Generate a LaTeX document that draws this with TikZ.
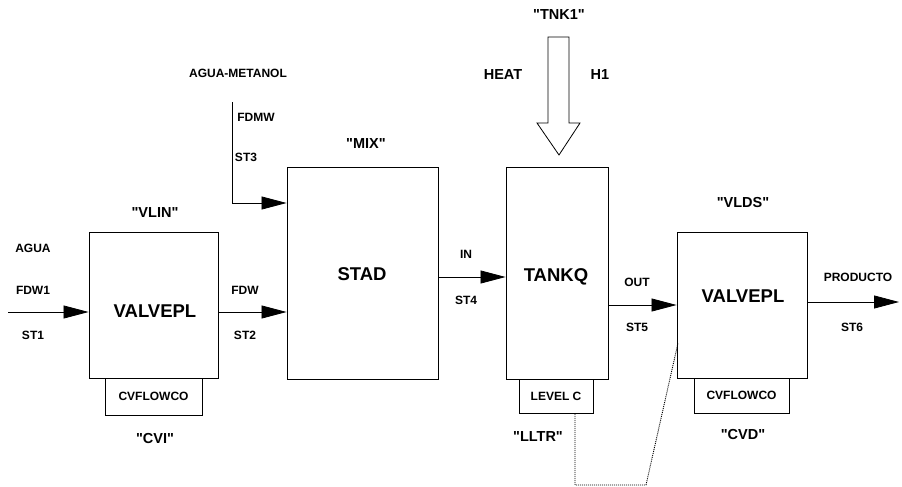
\documentclass[tikz,border=0pt]{standalone}
\usepackage{fontspec}
\newfontfamily\lab{Liberation Sans}
\usetikzlibrary{arrows.meta}
\tikzset{
  box/.style={draw, line width=0.9pt, rectangle, inner sep=0pt},
  small/.style={font=\lab\bfseries\fontsize{12}{13}\selectfont, inner sep=0pt},
  mid/.style={font=\lab\bfseries\fontsize{14.5}{16}\selectfont, inner sep=0pt},
  big/.style={font=\lab\bfseries\fontsize{18.5}{20}\selectfont, inner sep=0pt},
  flow/.style={line width=0.8pt, -{Triangle[length=25pt,width=13pt]}},
  sig/.style={line width=0.9pt, dash pattern=on 1pt off 1pt}
}
\begin{document}
\begin{tikzpicture}[x=1pt,y=-1pt]
\useasboundingbox (0,0) rectangle (902,487);
% boxes
\node[box, minimum width=129pt, minimum height=146pt] (vlin) at (153.5,305) {};
\node[box, minimum width=97pt, minimum height=37pt, anchor=north] (cvi) at (153.5,378) {};
\node[box, minimum width=151pt, minimum height=212pt] (stad) at (362.5,273) {};
\node[box, minimum width=102pt, minimum height=212pt] (tankq) at (557,273) {};
\node[box, minimum width=74pt, minimum height=34pt, anchor=north] (lvl) at (556,379) {};
\node[box, minimum width=130pt, minimum height=146pt] (vlds) at (742,305) {};
\node[box, minimum width=95pt, minimum height=35pt, anchor=north] (cvd) at (741.5,378) {};
% box texts
\node[big] (t1) at (155,311) {VALVEPL};
\node[small] (t2) at (153.5,396.5) {CVFLOWCO};
\node[big] (t3) at (362,274) {STAD};
\node[big] (t4) at (556,277) {TANKQ};
\node[small] (t5) at (556,396) {LEVEL C};
\node[big] (t6) at (743,296) {VALVEPL};
\node[small] (t7) at (741.5,395.5) {CVFLOWCO};
% block names
\node[mid] (n1) at (155,213) {"VLIN"};
\node[mid] (n2) at (155,439) {"CVI"};
\node[mid] (n3) at (366,144) {"MIX"};
\node[mid] (n4) at (559,15) {"TNK1"};
\node[mid] (n5) at (538,437) {"LLTR"};
\node[mid] (n6) at (743,203) {"VLDS"};
\node[mid] (n7) at (743,435) {"CVD"};
\node[mid] (heat) at (503,75) {HEAT};
\node[mid] (h1) at (600,75) {H1};
% stream labels
\node[small] (l1) at (33,248) {AGUA};
\node[small] (l2) at (33,290) {FDW1};
\node[small] (l3) at (33,335) {ST1};
\node[small] (l4) at (245,290) {FDW};
\node[small] (l5) at (245,335) {ST2};
\node[small] (l6) at (238,73) {AGUA-METANOL};
\node[small] (l7) at (256,117) {FDMW};
\node[small] (l8) at (246,157) {ST3};
\node[small] (l9) at (466,254) {IN};
\node[small] (l10) at (466,300) {ST4};
\node[small] (l11) at (637,282) {OUT};
\node[small] (l12) at (637,327) {ST5};
\node[small] (l13) at (858,277) {PRODUCTO};
\node[small] (l14) at (852,327) {ST6};
% free ends
\coordinate (s1) at (8,312);
\coordinate (s3) at (232,102);
\coordinate (s3b) at (232,203);
\coordinate (s6) at (899,302);
\coordinate (d1) at (575,485);
\coordinate (d2) at (646,485);
\coordinate (d3) at (678,343);
% streams
\draw[flow] (s1) -- (s1 -| vlin.west);
\draw[flow] (vlin.east |- s1) -- (stad.west |- s1);
\draw[flow] (s3) -- (s3b) -- (stad.west |- s3b);
\draw[flow] (stad.east |- 0,277) -- (tankq.west |- 0,277);
\draw[flow] (tankq.east |- 0,305) -- (vlds.west |- 0,305);
\draw[flow] (vlds.east |- s6) -- (s6);
% heat arrow
\draw[line width=0.8pt, fill=white] (548,37) -- (548,123) -- (537,123) -- (559,155) -- (580,123) -- (569,123) -- (569,37) -- cycle;
% signal line
\draw[sig] (lvl.south -| d1) -- (d1) -- (d2) -- (d3);
\end{tikzpicture}
\end{document}
